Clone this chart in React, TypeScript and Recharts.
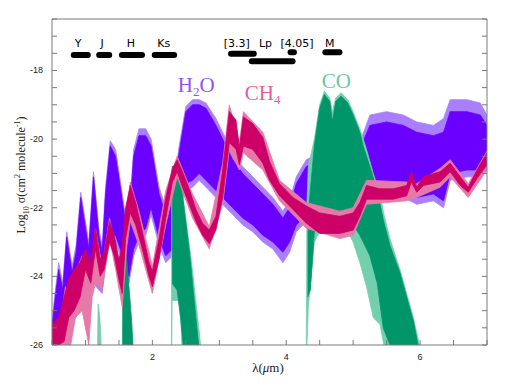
import { ComposedChart, Area, XAxis, YAxis, ReferenceLine, ReferenceDot } from "recharts";

type Band = [number, number, number]; // [lambda, low, high]

// H2O cross-section envelope (log10 sigma)
const h2oLight: Band[] = [
  [0.5, -26, -25.3], [0.55, -26, -24.4], [0.6, -25.5, -23.6], [0.66, -25.7, -24.2], [0.72, -25.4, -22.7],
  [0.8, -25.3, -23.7], [0.86, -25.2, -23.1], [0.93, -24.2, -21.55], [1.0, -24.5, -22.4], [1.05, -24.6, -23.0],
  [1.12, -24.2, -20.95], [1.2, -24.4, -22.6], [1.25, -24.5, -23.1], [1.3, -23.7, -21.4], [1.37, -22.9, -20.05],
  [1.45, -23.0, -20.3], [1.52, -23.4, -21.2], [1.58, -23.8, -22.0], [1.65, -24.2, -22.3], [1.72, -23.4, -20.3],
  [1.8, -23.0, -19.7], [1.9, -22.8, -19.7], [1.98, -22.2, -20.0], [2.1, -23.1, -21.4], [2.2, -23.6, -22.0],
  [2.3, -23.4, -21.6], [2.4, -22.0, -20.2], [2.5, -21.5, -19.05], [2.6, -21.4, -18.85], [2.7, -21.2, -18.85],
  [2.8, -21.4, -18.95], [2.95, -21.7, -19.4], [3.05, -21.9, -19.8], [3.2, -22.2, -20.4], [3.35, -22.5, -20.8],
  [3.5, -22.7, -21.1], [3.65, -23.0, -21.4], [3.8, -23.2, -21.7], [3.95, -23.6, -22.1], [4.05, -23.3, -21.8],
  [4.15, -22.7, -21.1], [4.3, -22.4, -20.6], [4.5, -22.6, -20.4], [4.8, -22.7, -20.4], [5.1, -22.2, -20.1],
  [5.25, -21.7, -19.3], [5.5, -21.8, -19.2], [5.75, -21.7, -19.3], [5.95, -21.9, -19.5], [6.2, -21.8, -19.6],
  [6.35, -22.0, -19.4], [6.45, -21.2, -18.85], [6.7, -21.1, -18.85], [6.9, -21.1, -18.95], [7.0, -20.9, -19.3],
];
const h2oDark: Band[] = [
  [0.5, -26, -25.5], [0.55, -26, -24.6], [0.6, -25.3, -23.8], [0.66, -25.5, -24.4], [0.72, -25.2, -22.85],
  [0.8, -25.1, -23.9], [0.86, -25.0, -23.3], [0.93, -24.0, -21.7], [1.0, -24.3, -22.6], [1.05, -24.4, -23.2],
  [1.12, -24.0, -21.1], [1.2, -24.2, -22.8], [1.25, -24.3, -23.3], [1.3, -23.5, -21.6], [1.37, -22.7, -20.2],
  [1.45, -22.8, -20.5], [1.52, -23.2, -21.4], [1.58, -23.6, -22.2], [1.65, -24.0, -22.5], [1.72, -23.2, -20.5],
  [1.8, -22.8, -19.9], [1.9, -22.6, -19.9], [1.98, -22.0, -20.2], [2.1, -22.9, -21.6], [2.2, -23.4, -22.2],
  [2.3, -23.2, -21.8], [2.4, -21.8, -20.4], [2.5, -21.3, -19.2], [2.6, -21.2, -19.0], [2.7, -21.0, -19.0],
  [2.8, -21.2, -19.1], [2.95, -21.5, -19.6], [3.05, -21.7, -20.0], [3.2, -22.0, -20.6], [3.35, -22.3, -21.0],
  [3.5, -22.5, -21.3], [3.65, -22.8, -21.6], [3.8, -23.0, -21.9], [3.95, -23.3, -22.3], [4.05, -23.0, -22.0],
  [4.15, -22.5, -21.3], [4.3, -22.2, -20.8], [4.5, -22.4, -20.6], [4.8, -22.5, -20.6], [5.1, -22.0, -20.3],
  [5.25, -21.5, -19.6], [5.5, -21.6, -19.5], [5.75, -21.5, -19.6], [5.95, -21.7, -19.8], [6.2, -21.6, -19.9],
  [6.35, -21.8, -19.8], [6.45, -21.0, -19.2], [6.7, -20.9, -19.2], [6.9, -20.9, -19.3], [7.0, -20.7, -19.6],
];

// CO bands
const co12: Band[] = [[1.18, -26, -26], [1.19, -26, -24.8], [1.215, -26, -25.2], [1.235, -26, -26]];
const co16: Band[] = [[1.555, -26, -26], [1.56, -26, -22.9], [1.62, -26, -23.6], [1.65, -26, -24.3], [1.69, -26, -25.3], [1.71, -26, -26]];
const co23Light: Band[] = [
  [2.285, -26, -26], [2.29, -26, -20.9], [2.295, -24.7, -20.8], [2.42, -24.7, -21.1], [2.44, -26, -21.4],
  [2.58, -26, -23.5], [2.7, -26, -25.6], [2.72, -26, -26],
];
const co23Dark: Band[] = [
  [2.295, -24.2, -20.8], [2.37, -24.4, -20.75], [2.42, -25.2, -21.2], [2.46, -26, -21.8],
  [2.56, -26, -23.4], [2.66, -26, -25.4], [2.69, -26, -26],
];
const co46Light: Band[] = [
  [4.3, -26, -26], [4.31, -26, -21.8], [4.33, -24.9, -20.8], [4.42, -23.0, -20.0], [4.5, -22.7, -19.0],
  [4.57, -22.6, -18.6], [4.65, -22.6, -18.8], [4.69, -22.6, -19.2], [4.74, -22.6, -18.8], [4.82, -22.6, -18.65],
  [4.92, -22.7, -18.85], [5.0, -23.0, -19.2], [5.1, -23.6, -19.7], [5.2, -24.3, -20.3], [5.3, -25.2, -21.0],
  [5.4, -25.4, -21.6], [5.46, -26, -22.2], [5.55, -26, -22.9], [5.7, -26, -23.8], [5.8, -26, -24.5],
  [5.9, -26, -25.2], [5.99, -26, -26],
];
const co46Dark: Band[] = [
  [4.32, -24.6, -22.4], [4.36, -24.4, -21.5], [4.42, -22.7, -20.2], [4.5, -22.5, -19.1], [4.57, -22.4, -18.7],
  [4.65, -22.4, -18.9], [4.69, -22.4, -19.5], [4.74, -22.4, -18.9], [4.82, -22.4, -18.75], [4.92, -22.4, -18.95],
  [5.0, -22.5, -19.3], [5.1, -22.8, -19.8], [5.15, -23.0, -20.2], [5.25, -23.4, -20.8], [5.36, -24.2, -21.5],
  [5.45, -25.5, -22.35], [5.55, -26, -23.1], [5.7, -26, -23.9], [5.8, -26, -24.6], [5.9, -26, -25.3], [5.97, -26, -26],
];

// CH4
const ch4Light: Band[] = [
  [0.5, -26, -25.6], [0.62, -26, -25.4], [0.7, -26, -24.3], [0.78, -26, -24.6], [0.85, -25.2, -23.9],
  [0.95, -25.0, -23.4], [1.05, -26, -23.7], [1.1, -24.6, -23.6], [1.15, -24.2, -22.6], [1.25, -24.4, -23.7],
  [1.36, -22.9, -22.3], [1.45, -23.8, -23.2], [1.55, -24.9, -24.4], [1.62, -23.1, -22.0], [1.67, -22.4, -21.25],
  [1.8, -23.1, -22.1], [2.0, -24.5, -23.7], [2.2, -22.5, -21.5], [2.37, -21.1, -20.5], [2.6, -22.3, -21.6],
  [2.85, -23.2, -22.55], [3.05, -21.9, -20.7], [3.15, -20.3, -19.0], [3.3, -20.9, -20.1], [3.36, -20.4, -19.2],
  [3.65, -20.9, -19.8], [3.9, -21.8, -21.2], [4.3, -22.6, -21.85], [4.8, -22.9, -22.1], [5.0, -22.8, -22.0],
  [5.2, -21.9, -21.2], [5.8, -21.8, -21.25], [5.95, -21.7, -21.3], [6.3, -21.4, -20.85], [6.45, -21.1, -20.6],
  [6.72, -21.7, -21.3], [7.0, -20.9, -20.35],
];
const ch4Dark: Band[] = [
  [0.5, -26, -25.4], [0.6, -26, -25.2], [0.68, -25.9, -24.6], [0.75, -25.2, -24.1], [0.83, -25.0, -23.8],
  [0.92, -24.6, -23.6], [1.0, -23.8, -23.2], [1.08, -24.2, -23.6], [1.15, -23.2, -22.6], [1.22, -24.0, -23.5],
  [1.28, -23.8, -23.3], [1.36, -23.0, -22.4], [1.43, -23.4, -22.8], [1.5, -24.1, -23.5], [1.55, -24.5, -23.1],
  [1.6, -22.9, -22.0], [1.67, -22.15, -21.35], [1.75, -22.5, -21.85], [1.85, -23.2, -22.7], [1.95, -24.0, -23.6],
  [2.0, -24.3, -23.85], [2.1, -23.5, -22.9], [2.2, -22.3, -21.7], [2.3, -21.25, -20.85], [2.37, -20.95, -20.6],
  [2.45, -21.4, -20.95], [2.55, -21.9, -21.45], [2.65, -22.4, -22.05], [2.75, -22.8, -22.45], [2.85, -23.05, -22.65],
  [2.95, -22.65, -22.25], [3.05, -21.7, -20.9], [3.15, -20.1, -19.2], [3.25, -20.3, -19.45], [3.3, -20.75, -20.25],
  [3.36, -20.2, -19.35], [3.5, -20.3, -19.55], [3.65, -20.7, -19.95], [3.75, -21.2, -20.65], [3.9, -21.65, -21.3],
  [4.1, -22.05, -21.7], [4.3, -22.45, -21.95], [4.5, -22.75, -22.15], [4.8, -22.75, -22.25], [5.0, -22.65, -22.15],
  [5.1, -22.25, -21.85], [5.2, -21.75, -21.35], [5.4, -21.75, -21.45], [5.6, -21.75, -21.45], [5.8, -21.65, -21.35],
  [5.87, -21.25, -20.95], [5.95, -21.55, -21.4], [6.05, -21.35, -21.1], [6.3, -21.25, -20.95], [6.45, -20.95, -20.7],
  [6.6, -21.35, -21.1], [6.72, -21.55, -21.4], [6.85, -21.15, -20.9], [7.0, -20.75, -20.4],
];

// photometric bands drawn at the top
const bandNames = ["Y", "J", "H", "Ks", "[3.3]", "Lp", "[4.05]", "M"];
const bandStart = [0.825, 1.205, 1.545, 2.035, 3.175, 3.485, 4.065, 4.585];
const bandEnd = [1.035, 1.355, 1.845, 2.325, 3.515, 4.095, 4.115, 4.795];
const bandLevel = [-17.55, -17.55, -17.55, -17.55, -17.51, -17.73, -17.47, -17.47];
const bandLabelX = [0.89, 1.25, 1.68, 2.17, 3.26, 3.69, 4.16, 4.65];
const bandLabelY = -17.33;

const xTicks = [0.5, 1, 1.5, 2, 2.5, 3, 3.5, 4, 4.5, 5, 5.5, 6, 6.5, 7];
const xLabeled = [2, 4, 6];
const yTicks = [-26, -25.5, -25, -24.5, -24, -23.5, -23, -22.5, -22, -21.5, -21, -20.5, -20, -19.5, -19, -18.5, -18, -17.5, -17, -16.5];
const yLabeled = [-26, -24, -22, -20, -18];

const AXIS = "#7a7a7a";
const TICK_FONT = "'Liberation Sans', Arial, sans-serif";
const SERIF = "'Liberation Serif', 'Times New Roman', serif";

const layers: { data: Band[]; color: string }[] = [
  { data: h2oLight, color: "#a97fff" },
  { data: h2oDark, color: "#6a00ff" },
  { data: co12, color: "#73cfae" },
  { data: co16, color: "#00966a" },
  { data: co23Light, color: "#73cfae" },
  { data: co23Dark, color: "#00966a" },
  { data: co46Light, color: "#73cfae" },
  { data: co46Dark, color: "#00966a" },
  { data: ch4Light, color: "#e57aa8" },
  { data: ch4Dark, color: "#cc0066" },
];

const toRows = (rows: Band[]) => rows.map(([x, lo, hi]) => ({ x, band: [lo, hi] }));

// ticks point into the plot; the axis sits at the tick's own coordinate
function BottomTick({ x, y, payload }: any) {
  const v = payload.value;
  return (
    <g>
      <line x1={x} x2={x} y1={y} y2={y - 5} stroke={AXIS} />
      {xLabeled.includes(v) && (
        <text x={x} y={y + 15} textAnchor="middle" fontSize={9} fontFamily={TICK_FONT} fill="#222">{v}</text>
      )}
    </g>
  );
}
function TopTick({ x, y }: any) {
  return <line x1={x} x2={x} y1={y} y2={y + 5} stroke={AXIS} />;
}
function LeftTick({ x, y, payload }: any) {
  const v = payload.value;
  return (
    <g>
      <line x1={x} x2={x + 5} y1={y} y2={y} stroke={AXIS} />
      {yLabeled.includes(v) && (
        <text x={x - 9} y={y + 3} textAnchor="end" fontSize={9} fontFamily={TICK_FONT} fill="#222">{v}</text>
      )}
    </g>
  );
}
function RightTick({ x, y }: any) {
  return <line x1={x} x2={x - 5} y1={y} y2={y} stroke={AXIS} />;
}

const speciesLabel = (a: string, sub: string, b: string, color: string) => (p: any) => (
  <text x={p.cx} y={p.cy} fontSize={21} fontFamily={SERIF} fill={color}>
    <tspan>{a}</tspan>
    {sub !== "" && <tspan fontSize={13} dy={4}>{sub}</tspan>}
    {b !== "" && <tspan dy={sub !== "" ? -4 : 0}>{b}</tspan>}
  </text>
);

export default function App() {
  return (
    <div style={{ position: "relative", width: 505, height: 375 }}>
      <ComposedChart width={505} height={375} margin={{ top: 10, right: 25, bottom: 8, left: 4 }}>
        <XAxis dataKey="x" type="number" domain={[0.5, 7]} ticks={xTicks} allowDataOverflow
          height={30} tickSize={0} tickMargin={0} axisLine={{ stroke: AXIS }} tickLine={false} tick={<BottomTick />} interval={0} />
        <XAxis xAxisId="top" orientation="top" type="number" domain={[0.5, 7]} ticks={xTicks} allowDataOverflow
          height={1} tickSize={0} tickMargin={0} axisLine={{ stroke: AXIS }} tickLine={false} tick={<TopTick />} interval={0} />
        <YAxis type="number" domain={[-26, -16.5]} ticks={yTicks} allowDataOverflow
          width={40} tickSize={0} tickMargin={0} axisLine={{ stroke: AXIS }} tickLine={false} tick={<LeftTick />} interval={0} />
        <YAxis yAxisId="right" orientation="right" type="number" domain={[-26, -16.5]} ticks={yTicks} allowDataOverflow
          width={1} tickSize={0} tickMargin={0} axisLine={{ stroke: AXIS }} tickLine={false} tick={<RightTick />} interval={0} />

        {layers.map((l, i) => (
          <Area key={i} data={toRows(l.data)} dataKey="band" type="linear" stroke={l.color} strokeWidth={0.8}
            fill={l.color} fillOpacity={1} dot={false} activeDot={false} isAnimationActive={false} />
        ))}

        {bandNames.map((n, i) => (
          <ReferenceLine key={"b" + n} segment={[{ x: bandStart[i], y: bandLevel[i] }, { x: bandEnd[i], y: bandLevel[i] }]}
            stroke="#000" strokeWidth={6} strokeLinecap="round" />
        ))}
        {bandNames.map((n, i) => (
          <ReferenceDot key={"t" + n} x={bandLabelX[i]} y={bandLabelY} r={0}
            shape={(p: any) => (
              <text x={p.cx} y={p.cy} textAnchor="middle" fontSize={11} fontFamily="'DejaVu Sans', sans-serif" fill="#000">{n}</text>
            )} />
        ))}

        <ReferenceDot x={2.38} y={-18.62} r={0} shape={speciesLabel("H", "2", "O", "#9152ff")} />
        <ReferenceDot x={3.38} y={-18.85} r={0} shape={speciesLabel("CH", "4", "", "#e0609a")} />
        <ReferenceDot x={4.53} y={-18.5} r={0} shape={speciesLabel("CO", "", "", "#66c8a6")} />
      </ComposedChart>

      <div style={{ position: "absolute", left: 14, top: 167, transform: "translate(-50%, -50%) rotate(-90deg)",
        whiteSpace: "nowrap", fontFamily: SERIF, fontSize: 12, color: "#222" }}>
        Log<sub style={{ fontSize: 8 }}>10</sub> σ(cm<sup style={{ fontSize: 8 }}>2</sup> molecule<sup style={{ fontSize: 8 }}>-1</sup>)
      </div>
      <div style={{ position: "absolute", left: 260, top: 360, transform: "translate(-50%, -50%)",
        whiteSpace: "nowrap", fontFamily: SERIF, fontSize: 13, color: "#222" }}>
        λ(<i>μ</i>m)
      </div>
    </div>
  );
}
